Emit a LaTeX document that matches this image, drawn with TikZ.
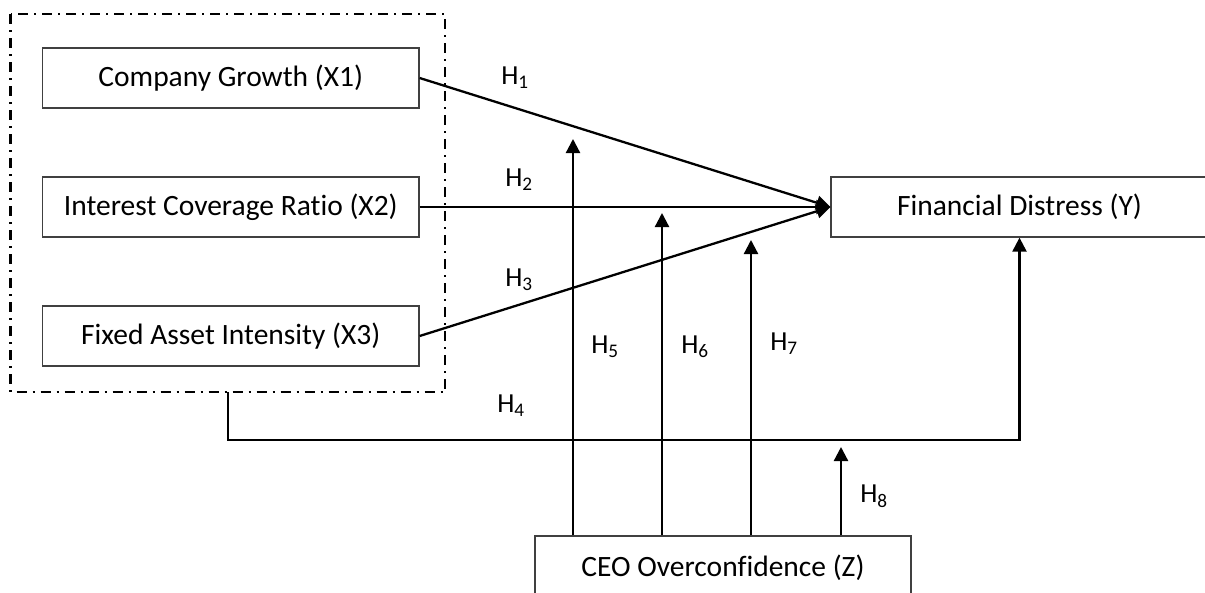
\documentclass[tikz,border=0pt]{standalone}
\usepackage{fontspec}
\setmainfont[Ligatures=NoCommon]{Carlito}
\usetikzlibrary{arrows.meta}
\begin{document}
\begin{tikzpicture}[x=1pt,y=-1pt,
  varbox/.style={draw=black!75,line width=1.3pt,minimum height=60pt,inner sep=0pt,font=\fontsize{29.5}{34}\selectfont},
  conn/.style={line width=2.3pt,black},
  arr/.style={conn,-{Triangle[length=14pt,width=14pt]}},
  hlab/.style={font=\fontsize{27.5}{32}\selectfont,inner sep=0pt},
  frame/.style={line width=2.2pt,dash pattern=on 10pt off 6pt on 2pt off 6pt}]
\useasboundingbox (0,0) rectangle (1205,592);
\begin{scope}
\clip (0,0) rectangle (1205,592);
\draw[frame] (10.5,14) rectangle (445,392);
\node[varbox,minimum width=376.5pt] (x1) at (230.75,78) {Company Growth (X1)};
\node[varbox,minimum width=376.5pt] (x2) at (230.75,207) {Interest Coverage Ratio (X2)};
\node[varbox,minimum width=376.5pt] (x3) at (230.75,336) {Fixed Asset Intensity (X3)};
\node[varbox,minimum width=377pt] (y) at (1019.5,207) {Financial Distress (Y)};
\node[varbox,minimum width=376pt,minimum height=62pt,text depth=0pt] (z) at (723,567) {\raisebox{3pt}{CEO Overconfidence (Z)}};
\end{scope}
\coordinate (h4s) at (228,392);
\coordinate (h5t) at (573,139);
\coordinate (h6t) at (662,213);
\coordinate (h7t) at (751,240);
\coordinate (h8t) at (841,447);
\draw[arr] (x1.east) -- (y.west);
\draw[arr] (x2.east) -- (y.west);
\draw[arr] (x3.east) -- (y.west);
\draw[arr] (h4s) -- (228,440) -| (y.south);
\draw[arr] (z.north -| h5t) -- (h5t);
\draw[arr] (z.north -| h6t) -- (h6t);
\draw[arr] (z.north -| h7t) -- (h7t);
\draw[arr] (z.north -| h8t) -- (h8t);
\node[hlab] (l1) at (515,78) {H\textsubscript{1}};
\node[hlab] (l2) at (519,180) {H\textsubscript{2}};
\node[hlab] (l3) at (519,280) {H\textsubscript{3}};
\node[hlab] (l4) at (511,406) {H\textsubscript{4}};
\node[hlab] (l5) at (605,347) {H\textsubscript{5}};
\node[hlab] (l6) at (695,347) {H\textsubscript{6}};
\node[hlab] (l7) at (784,344) {H\textsubscript{7}};
\node[hlab] (l8) at (874,496) {H\textsubscript{8}};
\end{tikzpicture}
\end{document}
